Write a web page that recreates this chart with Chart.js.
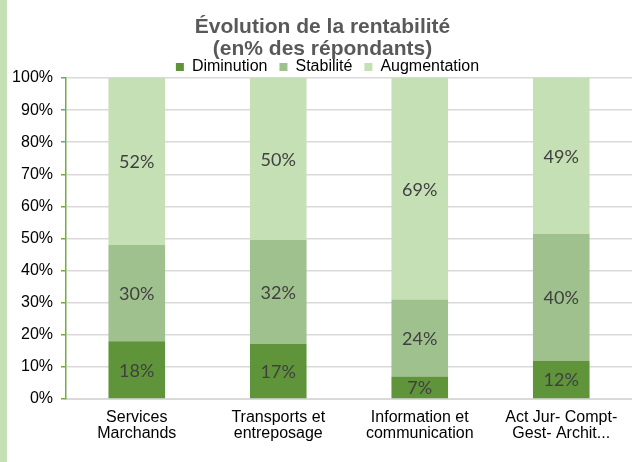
<!DOCTYPE html>
<html>
<head>
<meta charset="utf-8">
<script src="https://cdn.jsdelivr.net/npm/chart.js@4.4.1/dist/chart.umd.min.js"></script>
<style>
  html, body { margin: 0; padding: 0; background: #fff; }
  #wrap { width: 625px; height: 462px; border-left: 7px solid #c5e0b4; }
  canvas { display: block; }
</style>
</head>
<body>
<div id="wrap"><canvas id="chart" width="625" height="462"></canvas></div>
<script>
const categories = [
  ['Services', 'Marchands'],
  ['Transports et', 'entreposage'],
  ['Information et', 'communication'],
  ['Act Jur- Compt-', 'Gest- Archit...']
];
const diminution = [18, 17, 7, 12];
const stabilite = [30, 32, 24, 40];
const augmentation = [52, 50, 69, 49];
const yTicks = [0, 10, 20, 30, 40, 50, 60, 70, 80, 90, 100];

const series = [
  { label: 'Diminution', values: diminution, color: '#5f943a' },
  { label: 'Stabilité', values: stabilite, color: '#9fc18d' },
  { label: 'Augmentation', values: augmentation, color: '#c6e0b5' }
];

// 100% stacked: each bar is scaled to its own total
const totals = categories.map((c, i) => series.reduce((s, d) => s + d.values[i], 0));

const datasets = series.map(s => ({
  label: s.label,
  data: s.values.map((v, i) => v / totals[i] * 100),
  raw: s.values,
  backgroundColor: s.color,
  borderWidth: 0,
  categoryPercentage: 1,
  barPercentage: 0.4
}));

// value labels in the middle of each segment
const segmentLabels = {
  id: 'segmentLabels',
  afterDatasetsDraw(chart) {
    const ctx = chart.ctx;
    ctx.save();
    ctx.font = '18px Lato';
    ctx.fillStyle = '#404040';
    ctx.textAlign = 'center';
    ctx.textBaseline = 'middle';
    chart.data.datasets.forEach((ds, di) => {
      chart.getDatasetMeta(di).data.forEach((bar, i) => {
        ctx.fillText(ds.raw[i] + '%', bar.x, (bar.y + bar.base) / 2 + 1);
      });
    });
    ctx.restore();
  }
};

// title and legend sit a bit right of the canvas centre in the original
const headerPlace = {
  id: 'headerPlace',
  afterLayout(chart) {
    const t = chart.titleBlock;
    const l = chart.legend;
    const th = t.bottom - t.top;
    t.left += 3; t.right += 3;
    t.top = 16; t.bottom = t.top + th;
    const lh = l.bottom - l.top;
    l.left += 8; l.right += 8;
    l.top = 47; l.bottom = l.top + lh;
  }
};

new Chart(document.getElementById('chart'), {
  type: 'bar',
  data: { labels: categories, datasets },
  plugins: [segmentLabels, headerPlace],
  options: {
    responsive: false,
    animation: false,
    layout: { padding: { top: -4, right: 0, left: 0, bottom: 0 } },
    plugins: {
      title: {
        display: true,
        text: ['Évolution de la rentabilité', '(en% des répondants)'],
        color: '#595959',
        font: { family: 'Liberation Sans', size: 21, weight: 'bold', lineHeight: '22px' },
        padding: { top: 0, bottom: 0 }
      },
      legend: {
        display: true,
        labels: {
          boxWidth: 8,
          boxHeight: 8,
          padding: 12,
          color: '#000',
          font: { family: 'Liberation Sans', size: 16 }
        }
      },
      tooltip: { enabled: false }
    },
    scales: {
      x: {
        stacked: true,
        grid: { display: false, drawTicks: false },
        border: { display: true, color: '#d9d9d9', width: 2 },
        ticks: {
          color: '#000',
          padding: 11,
          font: { family: 'Liberation Sans', size: 16, lineHeight: '16px' },
          maxRotation: 0
        },
        afterFit(scale) { scale.height = 63; }
      },
      y: {
        stacked: true,
        min: 0,
        max: 100,
        afterBuildTicks(scale) { scale.ticks = yTicks.map(v => ({ value: v })); },
        grid: { color: '#d9d9d9', lineWidth: 1.5, tickColor: '#70ad47', tickLength: 5 },
        border: { display: true, color: '#70ad47', width: 1.5 },
        ticks: {
          color: '#000',
          padding: 8,
          font: { family: 'Liberation Sans', size: 16 },
          callback: v => v + '%'
        },
        afterFit(scale) { scale.width = 59; }
      }
    }
  }
});
</script>
</body>
</html>
